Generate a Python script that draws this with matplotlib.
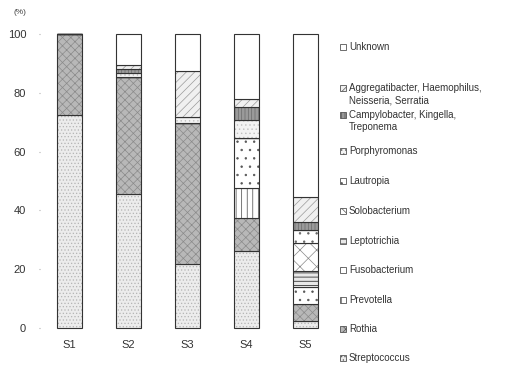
import matplotlib.pyplot as plt
from matplotlib.patches import Rectangle

plt.rcParams['font.family'] = ['Liberation Sans', 'DejaVu Sans']
plt.rcParams['hatch.linewidth'] = 0.5

# data (% of reads)
samples = ['S1', 'S2', 'S3', 'S4', 'S5']
streptococcus = [72.4, 45.6, 21.8, 26.3, 2.3]
rothia = [27.6, 39.9, 47.8, 11.0, 5.9]
prevotella = [0, 0, 0, 10.2, 0]
fusobacterium = [0, 0, 0, 17.2, 5.6]
leptotrichia = [0, 0, 0, 0, 5.7]
solobacterium = [0, 0, 0, 0, 9.3]
lautropia = [0, 0, 0, 0, 4.5]
porphyromonas = [0, 1.4, 2.0, 6.0, 0]
campylobacter = [0, 1.1, 0, 4.6, 2.9]
aggregatibacter = [0, 1.4, 15.9, 2.5, 8.5]
unknown = [0, 10.6, 12.5, 22.2, 55.3]

labels = ['Streptococcus', 'Rothia', 'Prevotella', 'Fusobacterium', 'Leptotrichia',
          'Solobacterium', 'Lautropia', 'Porphyromonas',
          'Campylobacter, Kingella,\nTreponema',
          'Aggregatibacter, Haemophilus,\nNeisseria, Serratia', 'Unknown']
series = [streptococcus, rothia, prevotella, fusobacterium, leptotrichia,
          solobacterium, lautropia, porphyromonas, campylobacter,
          aggregatibacter, unknown]

# (face, hatch, hatch colour)
styles = [
    ('#ececec', '.....', '#b5b5b5'),
    ('#b8b8b8', 'xxxx', '#8a8a8a'),
    ('white', '|||', '#444444'),
    ('white', '. .', '#555555'),
    ('#e8e8e8', '----', '#111111'),
    ('white', 'xx', '#888888'),
    ('white', '..', '#666666'),
    ('#f3f3f3', '....', '#c0c0c0'),
    ('#9a9a9a', '|||||', '#6a6a6a'),
    ('#f0f0f0', '////', '#9a9a9a'),
    ('white', None, '#999999'),
]

fig = plt.figure(figsize=(5.08, 3.65), dpi=100)
ax = fig.add_axes([40 / 508, 37 / 365, 295 / 508, 294 / 365])

x = list(range(len(samples)))
bottom = [0] * len(samples)
for vals, (face, hatch, hc) in zip(series, styles):
    ax.bar(x, vals, 0.41, bottom=bottom, color=face, hatch=hatch,
           edgecolor=hc, linewidth=0, clip_on=False)
    ax.bar(x, vals, 0.41, bottom=bottom, fill=False,
           edgecolor='#333333', linewidth=0.8, clip_on=False)
    bottom = [b + v for b, v in zip(bottom, vals)]

ax.set_xlim(-0.5, 4.5)
ax.set_ylim(0, 100)
ax.set_yticks([0, 20, 40, 60, 80, 100])
ax.set_xticks(x)
ax.set_xticklabels(samples)
for s in ax.spines.values():
    s.set_visible(False)
ax.tick_params(axis='y', length=1, color='#aaaaaa', pad=9, labelsize=8, labelcolor='#333333')
ax.tick_params(axis='x', length=0, pad=9, labelsize=8, labelcolor='#333333')
fig.text(14 / 508, 1 - 13 / 365, '(%)', fontsize=6, color='#444444', va='center')

# legend, top entry first
legend_y = [47, 88, 115, 151, 181, 211, 241, 270, 300, 329, 358]
for lab, (face, hatch, hc), yp in zip(labels[::-1], styles[::-1], legend_y):
    fy = 1 - yp / 365
    r = Rectangle((340 / 508, fy - 3 / 365), 6 / 508, 6 / 365, transform=fig.transFigure,
                  facecolor=face, hatch=hatch, edgecolor='#555555', linewidth=0.6)
    fig.add_artist(r)
    fig.text(349 / 508, fy + 5 / 365, lab, fontsize=7, color='#333333', va='top',
             linespacing=1.3)

fig.savefig('out.png', dpi=100)
